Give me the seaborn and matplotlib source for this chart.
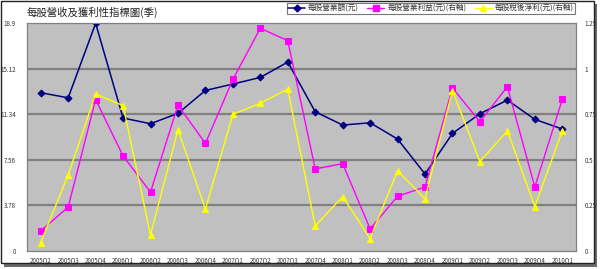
import matplotlib
matplotlib.use("Agg")
import matplotlib.pyplot as plt
import seaborn as sns
import pandas as pd
from matplotlib.patches import Rectangle
from matplotlib.lines import Line2D

quarters = ["2005Q2", "2005Q3", "2005Q4", "2006Q1", "2006Q2", "2006Q3", "2006Q4",
            "2007Q1", "2007Q2", "2007Q3", "2007Q4", "2008Q1", "2008Q2", "2008Q3",
            "2008Q4", "2009Q1", "2009Q2", "2009Q3", "2009Q4", "2010Q1"]
revenue_ps = [13.12, 12.70, 18.87, 11.02, 10.55, 11.41, 13.31, 13.84, 14.39, 15.66,
              11.54, 10.44, 10.63, 9.28, 6.38, 9.75, 11.38, 12.51, 10.91, 10.11]
op_income_ps = [0.110, 0.241, 0.830, 0.521, 0.323, 0.800, 0.590, 0.941, 1.221, 1.153,
                0.450, 0.479, 0.121, 0.300, 0.351, 0.894, 0.709, 0.901, 0.351, 0.831]
net_income_ps = [0.046, 0.417, 0.861, 0.797, 0.088, 0.665, 0.229, 0.749, 0.810, 0.888,
                 0.137, 0.298, 0.068, 0.440, 0.287, 0.879, 0.490, 0.658, 0.243, 0.658]
left_ticks = [0, 3.78, 7.56, 11.34, 15.12, 18.9]
left_labels = ["0", "3.78", "7.56", "11.34", "15.12", "18.9"]
right_ticks = [0, 0.25, 0.5, 0.75, 1, 1.25]
right_labels = ["0", "0.25", "0.5", "0.75", "1", "1.25"]
title = "每股營收及獲利性指標圖(季)"
names = ["每股營業額(元)", "每股營業利益(元)(右軸)", "每股稅後淨利(元)(右軸)"]

sns.set_style("white")
plt.rcParams["font.family"] = ["Noto Sans CJK TC", "DejaVu Sans"]

df = pd.DataFrame({"idx": range(len(quarters)), "rev": revenue_ps,
                   "op": op_income_ps, "net": net_income_ps})

fig = plt.figure(figsize=(6.0, 2.69), dpi=100)
fig.patch.set_facecolor("white")

# outer frame with shadow
fig.patches.append(Rectangle((4 / 600, 2 / 269), 593 / 600, 263 / 269, transform=fig.transFigure,
                             facecolor="#6a6a6a", edgecolor="none", zorder=0))
fig.patches.append(Rectangle((0.5 / 600, 6 / 269), 593.5 / 600, 262.5 / 269, transform=fig.transFigure,
                             facecolor="white", edgecolor="#222222", linewidth=1.0, zorder=1))

ax = fig.add_axes([27 / 600, 18 / 269, 549 / 600, 228 / 269])
ax.set_facecolor("#C0C0C0")
ax.set_zorder(2)
ax2 = ax.twinx()

for y in left_ticks[1:-1]:
    ax.axhline(y, color="#808080", linewidth=1.6, zorder=1)

sns.lineplot(data=df, x="idx", y="rev", ax=ax, color="#000080", marker="D",
             markersize=3.5, markeredgecolor="#000080", linewidth=1.1, zorder=3)
sns.lineplot(data=df, x="idx", y="op", ax=ax2, color="#FF00FF", marker="s",
             markersize=5, markeredgecolor="#FF00FF", linewidth=1.0, zorder=3)
sns.lineplot(data=df, x="idx", y="net", ax=ax2, color="#FFFF00", marker="^",
             markersize=5, markeredgecolor="#FFFF00", linewidth=1.0, zorder=3)

ax.set_xlim(-0.5, len(quarters) - 0.5)
ax.set_ylim(0, 18.9)
ax2.set_ylim(0, 1.25)
ax.set_xticks(range(len(quarters)))
ax.set_xticklabels(quarters, fontsize=4.5, color="#333333")
ax.set_xticks([i + 0.5 for i in range(len(quarters) - 1)], minor=True)
ax.tick_params(axis="x", which="major", length=0, pad=4)
ax.tick_params(axis="x", which="minor", length=3, color="#808080", width=0.6)
ax.set_yticks(left_ticks)
ax.set_yticklabels(left_labels, fontsize=4.5, color="#333333")
ax.tick_params(axis="y", length=0, pad=8)
ax2.set_yticks(right_ticks)
ax2.set_yticklabels(right_labels, fontsize=4.5, color="#333333")
ax2.tick_params(axis="y", length=0, pad=6)
ax.set_xlabel("")
ax.set_ylabel("")
ax2.set_ylabel("")
for a in (ax, ax2):
    for s in a.spines.values():
        s.set_color("#808080")
        s.set_linewidth(0.8)

fig.text(27 / 600, 1 - 12 / 269, title, fontsize=7.5, va="center", ha="left", color="#222222")

handles = [
    Line2D([], [], color="#000080", marker="D", markersize=3.5, linewidth=1.1),
    Line2D([], [], color="#FF00FF", marker="s", markersize=4.5, linewidth=1.0),
    Line2D([], [], color="#FFFF00", marker="^", markersize=4.5, linewidth=1.0),
]
leg = fig.legend(handles, names, ncol=3, loc="center", bbox_to_anchor=(431 / 600, 1 - 8.5 / 269),
                 fontsize=5.5, frameon=True, fancybox=False, edgecolor="#555555",
                 handlelength=2.2, handletextpad=0.4, columnspacing=1.1,
                 borderpad=0.2, labelcolor="#333333")
leg.get_frame().set_linewidth(0.8)

fig.savefig("out.png", dpi=100)
